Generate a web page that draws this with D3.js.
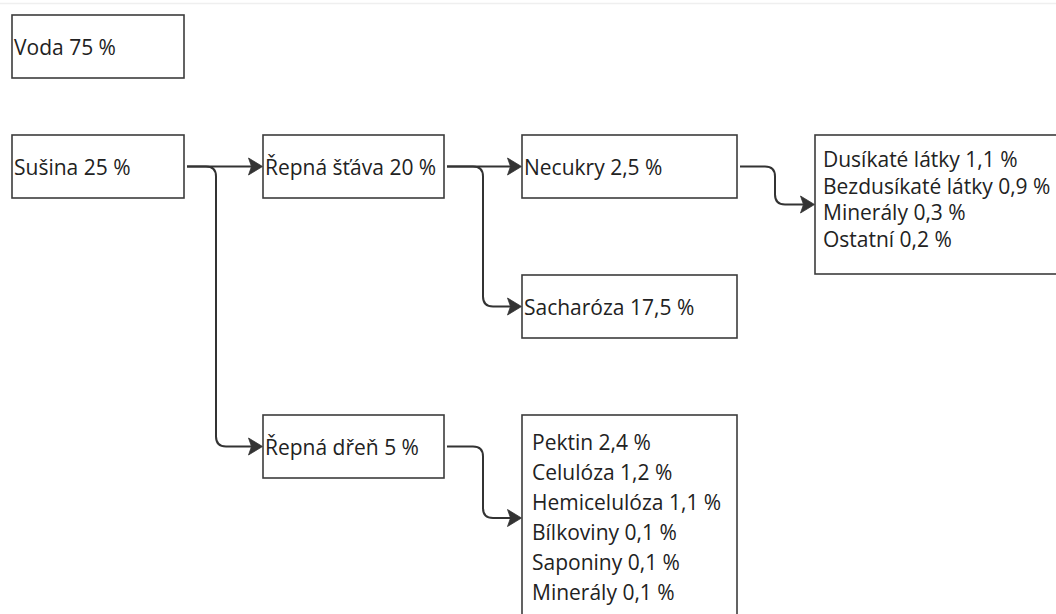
<!DOCTYPE html>
<html>
<head>
<meta charset="utf-8">
<script src="https://cdn.jsdelivr.net/npm/d3@7"></script>
<style>
html,body{margin:0;padding:0;background:#fff;}
svg{display:block;}
</style>
</head>
<body>
<div id="chart"></div>
<script>
// ---- data ----
const nodeIds    = ["voda", "susina", "stava", "necukry", "sacharoza", "dren", "necukryParts", "drenParts"];
const nodeLabels = [
  ["Voda 75 %"],
  ["Sušina 25 %"],
  ["Řepná šťáva 20 %"],
  ["Necukry 2,5 %"],
  ["Sacharóza 17,5 %"],
  ["Řepná dřeň 5 %"],
  ["Dusíkaté látky 1,1 %", "Bezdusíkaté látky 0,9 %", "Minerály 0,3 %", "Ostatní 0,2 %"],
  ["Pektin 2,4 %", "Celulóza 1,2 %", "Hemicelulóza 1,1 %", "Bílkoviny 0,1 %", "Saponiny 0,1 %", "Minerály 0,1 %"]
];
const nodeLevel  = [0, 0, 1, 2, 2, 1, 3, 2];   // hierarchy level (column)
const nodeRow    = [0, 1, 1, 1, 2, 3, 1, 3];   // grid row
const linkSource = ["susina", "susina", "stava", "stava", "necukry", "dren"];
const linkTarget = ["stava", "dren", "necukry", "sacharoza", "necukryParts", "drenParts"];

// ---- layout ----
const W = 1056, H = 614;
const colX = d3.scaleOrdinal().domain([0,1,2,3]).range([12, 263, 522, 815]);
const colW = d3.scaleOrdinal().domain([0,1,2,3]).range([172, 181, 215, 260]);
const rowY = d3.scaleOrdinal().domain([0,1,2,3]).range([15, 135, 275, 415]);
const bendOff = d3.scaleOrdinal().domain([0,1,2]).range([32, 39, 38]);
const boxH = 63, fontSize = 21;
const multiLineH = {necukryParts: 26.7, drenParts: 30};
const multiFirst = {necukryParts: 32, drenParts: 35};
const multiH = {necukryParts: 139, drenParts: 206};

const nodes = nodeIds.map((id, i) => {
  const lines = nodeLabels[i];
  const h = lines.length > 1 ? multiH[id] : boxH;
  return {id, lines, x: colX(nodeLevel[i]), y: rowY(nodeRow[i]), w: colW(nodeLevel[i]), h, level: nodeLevel[i]};
});
const byId = new Map(nodes.map(n => [n.id, n]));

const svg = d3.select("#chart").append("svg").attr("width", W).attr("height", H)
  .style("font-family", "'Open Sans', 'Noto Sans', sans-serif");

svg.append("line").attr("x1", 0).attr("x2", W).attr("y1", 3.5).attr("y2", 3.5)
  .attr("stroke", "#efefef").attr("stroke-width", 1.5);

const ink = "#333";

// links
const r = 10;
const links = linkSource.map((s, i) => ({s: byId.get(s), t: byId.get(linkTarget[i])}));
links.forEach(({s, t}) => {
  const x1 = s.x + s.w + 3, y1 = s.y + s.h / 2;
  const x2 = t.x - 10, y2 = t.y + t.h / 2;
  const xm = s.x + s.w + bendOff(s.level);
  const p = d3.path();
  p.moveTo(x1, y1);
  if (Math.abs(y2 - y1) < 1) {
    p.lineTo(x2, y2);
  } else {
    const dir = y2 > y1 ? 1 : -1;
    p.lineTo(xm - r, y1);
    p.quadraticCurveTo(xm, y1, xm, y1 + dir * r);
    p.lineTo(xm, y2 - dir * r);
    p.quadraticCurveTo(xm, y2, xm + r, y2);
    p.lineTo(x2, y2);
  }
  svg.append("path").attr("d", p.toString()).attr("fill", "none")
    .attr("stroke", ink).attr("stroke-width", 2);
  const tx = t.x - 0.5, ty = y2;
  svg.append("path")
    .attr("d", `M${tx},${ty} L${tx-14},${ty-8.5} L${tx-11},${ty} L${tx-14},${ty+8.5} Z`)
    .attr("fill", ink).attr("stroke", ink).attr("stroke-width", 0.8).attr("stroke-linejoin", "round");
});

// boxes
const g = svg.selectAll("g.node").data(nodes).join("g").attr("class", "node");
g.append("rect")
  .attr("x", d => d.x).attr("y", d => d.y).attr("width", d => d.w).attr("height", d => d.h)
  .attr("fill", "#fff").attr("stroke", "#3c3c3c").attr("stroke-width", 1.6);
g.each(function(d) {
  const sel = d3.select(this);
  if (d.lines.length === 1) {
    sel.append("text").attr("x", d.x + 2).attr("y", d.y + d.h / 2 + 8.5)
      .attr("font-size", fontSize).attr("fill", "#222").text(d.lines[0]);
  } else {
    const lh = multiLineH[d.id], first = multiFirst[d.id];
    sel.selectAll("text").data(d.lines).join("text")
      .attr("x", d.x + (d.id === "drenParts" ? 10 : 8))
      .attr("y", (l, i) => d.y + first + i * lh)
      .attr("font-size", fontSize).attr("fill", "#222").text(l => l);
  }
});
</script>
</body>
</html>
